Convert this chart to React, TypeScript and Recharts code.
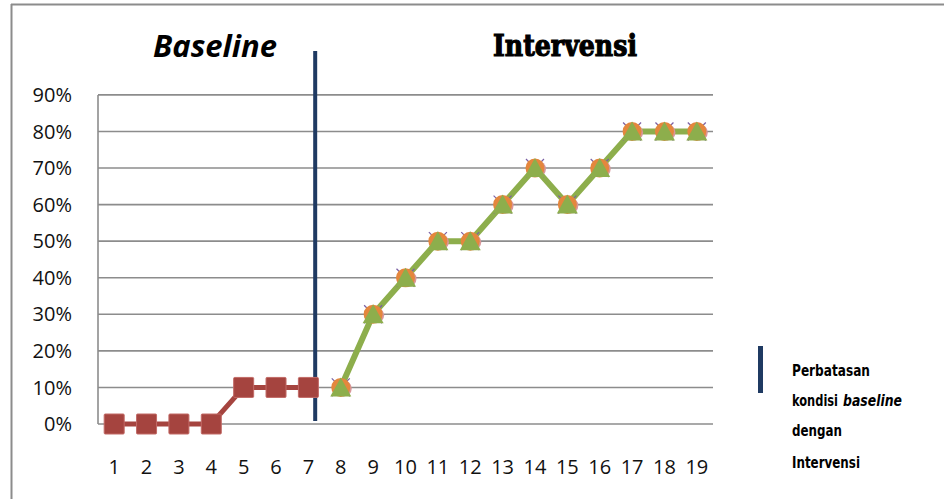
import React from "react";
import {
  LineChart, Line, XAxis, YAxis, ReferenceLine,
} from "recharts";

const sessions = [1, 2, 3, 4, 5, 6, 7, 8, 9, 10, 11, 12, 13, 14, 15, 16, 17, 18, 19];
const baselineValues = [0, 0, 0, 0, 0.1, 0.1, 0.1];
const intervensiValues = [0.1, 0.3, 0.4, 0.5, 0.5, 0.6, 0.7, 0.6, 0.7, 0.8, 0.8, 0.8];
const yTicks = [0, 0.1, 0.2, 0.3, 0.4, 0.5, 0.6, 0.7, 0.8, 0.9];
const dividerAt = 7.21;

const data = sessions.map((s, i) => ({
  x: s,
  baseline: i < baselineValues.length ? baselineValues[i] : undefined,
  intervensi: i >= baselineValues.length ? intervensiValues[i - baselineValues.length] : undefined,
}));

const tickStyle = { fontSize: 20, fill: "#111", fontFamily: "Open Sans" };
const gridColor = "#8C8C8C";

const squareDot = (p: any) => {
  if (p.cy == null) return <g key={p.index} />;
  return (
    <rect key={p.index} x={p.cx - 10} y={p.cy - 10} width={20} height={20} rx={1}
      fill="#A5443F" stroke="#C26A66" strokeWidth={1} />
  );
};

const crossDot = (p: any) => {
  if (p.cy == null) return <g key={p.index} />;
  const r = 9;
  return (
    <g key={p.index} stroke="#7A5FA3" strokeWidth={1.2}>
      <line x1={p.cx - r} y1={p.cy - r} x2={p.cx + r} y2={p.cy + r} />
      <line x1={p.cx - r} y1={p.cy + r} x2={p.cx + r} y2={p.cy - r} />
    </g>
  );
};

const pinkDot = (p: any) => {
  if (p.cy == null) return <g key={p.index} />;
  return <circle key={p.index} cx={p.cx + 3} cy={p.cy + 1} r={8} fill="#D9979A" />;
};

const orangeDot = (p: any) => {
  if (p.cy == null) return <g key={p.index} />;
  return <circle key={p.index} cx={p.cx} cy={p.cy} r={9.5} fill="#E4873D" />;
};

const triangleDot = (p: any) => {
  if (p.cy == null) return <g key={p.index} />;
  const { cx, cy } = p;
  return (
    <polygon key={p.index}
      points={`${cx},${cy - 10} ${cx + 10.5},${cy + 9} ${cx - 10.5},${cy + 9}`}
      fill="#8DAE4C" />
  );
};

export default function App() {
  return (
    <div style={{ position: "absolute", left: 0, top: 0, width: 944, height: 499, background: "#fff" }}>
      <LineChart width={944} height={499} data={data}
        margin={{ top: 51, right: 231, bottom: 0, left: 0 }}>
        <XAxis dataKey="x" type="number" domain={[0.5, 19.5]} ticks={sessions} interval={0}
          axisLine={false} tickLine={false} tickSize={0} tickMargin={36} height={75}
          tick={tickStyle} />
        <YAxis type="number" domain={[0, 1.02]} ticks={yTicks} interval={0}
          tickFormatter={(v: number) => `${Math.round(v * 100)}%`}
          axisLine={false} tickLine={false} tickSize={0} tickMargin={26} width={98}
          tick={tickStyle} />
        {yTicks.map((t) => (
          <ReferenceLine key={t} y={t} stroke={gridColor} strokeWidth={1.6} ifOverflow="visible" />
        ))}
        <ReferenceLine segment={[{ x: 0.5, y: 0 }, { x: 0.5, y: 0.9 }]}
          stroke={gridColor} strokeWidth={1.6} ifOverflow="visible" />
        <Line dataKey="baseline" stroke="#A5443F" strokeWidth={5}
          dot={squareDot} isAnimationActive={false} />
        <Line dataKey="intervensi" stroke="none" dot={crossDot} isAnimationActive={false} />
        <Line dataKey="intervensi" stroke="none" dot={pinkDot} isAnimationActive={false} />
        <Line dataKey="intervensi" stroke="none" dot={orangeDot} isAnimationActive={false} />
        <Line dataKey="intervensi" stroke="#8DAE4C" strokeWidth={6}
          dot={triangleDot} isAnimationActive={false} />
        <ReferenceLine segment={[{ x: dividerAt, y: 0.008 }, { x: dividerAt, y: 1.02 }]}
          stroke="#1F3A62" strokeWidth={4} ifOverflow="visible" />
      </LineChart>
      <svg width={944} height={499} style={{ position: "absolute", left: 0, top: 0, pointerEvents: "none" }}>
        <line x1={11} y1={4.5} x2={944} y2={4.5} stroke={gridColor} strokeWidth={2} />
        <line x1={11.5} y1={4} x2={11.5} y2={499} stroke={gridColor} strokeWidth={2} />
        <text x={153} y={57} fontFamily="Open Sans" fontWeight="bold" fontStyle="italic"
          fontSize={30} textLength={124} lengthAdjust="spacingAndGlyphs" fill="#000">Baseline</text>
        <text x={493} y={56} fontFamily="DejaVu Serif" fontWeight="bold"
          fontSize={30} textLength={144} lengthAdjust="spacingAndGlyphs" fill="#000"
          stroke="#000" strokeWidth={1.2}>Intervensi</text>
        <rect x={758} y={346} width={5} height={47} fill="#1F3A62" />
        <g fontFamily="DejaVu Sans Condensed" fontWeight="bold" fontSize={15} fill="#000">
          <text x={792} y={376} textLength={78} lengthAdjust="spacingAndGlyphs">Perbatasan</text>
          <text x={792} y={406} textLength={46} lengthAdjust="spacingAndGlyphs">kondisi</text>
          <text x={843} y={406} textLength={59} lengthAdjust="spacingAndGlyphs" fontStyle="italic">baseline</text>
          <text x={792} y={436} textLength={50} lengthAdjust="spacingAndGlyphs">dengan</text>
          <text x={792} y={468} textLength={68} lengthAdjust="spacingAndGlyphs">Intervensi</text>
        </g>
      </svg>
    </div>
  );
}
